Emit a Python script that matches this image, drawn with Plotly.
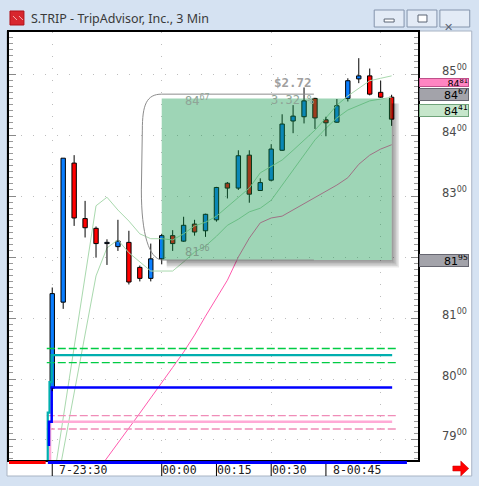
import plotly.graph_objects as go

W, H = 479, 486
PL, PR, PT, PB = 7, 418, 32, 460


def px(x):
    return (x - PL) / (PR - PL)


def py(y):
    return (PB - y) / (PB - PT)


# ---------------- data ----------------
bar_idx = list(range(-10, 22))
opens = [79.85, 81.26, 83.54, 82.63, 82.47, 82.22, 82.17, 82.24, 81.83, 81.65,
         81.97, 82.35, 82.26, 82.54, 82.43, 82.61, 83.21, 83.13, 83.67, 83.09,
         83.26, 83.75, 84.23, 84.30, 84.60, 84.25, 84.21, 84.60, 84.92, 84.97, 84.70, 84.62]
highs = [81.50, 83.62, 83.67, 82.92, 82.50, 82.29, 82.61, 82.43, 81.86, 82.22,
         82.38, 82.44, 82.66, 82.61, 82.71, 83.15, 83.23, 83.75, 83.75, 83.29,
         83.85, 84.34, 84.49, 84.78, 84.61, 84.30, 84.59, 84.93, 85.26, 85.09, 84.89, 84.66]
lows = [79.80, 81.15, 82.51, 82.32, 81.99, 81.87, 82.10, 81.55, 81.60, 81.60,
        81.88, 82.10, 82.25, 82.35, 82.33, 82.58, 82.96, 83.10, 82.89, 83.09,
        83.24, 83.74, 84.03, 84.19, 84.10, 83.98, 84.20, 84.55, 84.85, 84.65, 84.61, 84.15]
closes = [81.40, 83.62, 82.64, 82.48, 82.22, 82.24, 82.26, 81.59, 81.65, 81.97,
          82.35, 82.22, 82.52, 82.41, 82.70, 83.14, 83.13, 83.66, 83.03, 83.22,
          83.77, 84.18, 84.31, 84.56, 84.28, 84.20, 84.48, 84.89, 84.97, 84.67, 84.62, 84.26]

ma_fast = [78.20, 79.36, 80.52, 81.68, 82.84, 82.98, 82.77, 82.59, 82.38, 82.30,
           82.30, 82.28, 82.38, 82.51, 82.57, 82.67, 82.82, 82.98, 83.13, 83.38,
           83.49, 83.59, 83.75, 83.92, 84.08, 84.28, 84.49, 84.64, 84.77, 84.89, 84.93, 84.97]
ma_slow = [77.85, 78.80, 79.76, 80.72, 81.69, 82.15, 82.28, 82.07, 81.92, 81.77,
           81.77, 81.77, 81.92, 82.08, 82.18, 82.34, 82.52, 82.62, 82.74, 82.80,
           82.93, 83.18, 83.43, 83.67, 83.92, 84.11, 84.28, 84.41, 84.49, 84.56, 84.59, 84.62]
ma_long_idx = list(range(-6, 22))
ma_long = [78.46, 78.70, 78.95, 79.20, 79.44, 79.69, 79.93, 80.19, 80.44, 80.72,
           81.03, 81.33, 81.62, 82.00, 82.31, 82.56, 82.64, 82.67, 82.77, 82.87,
           82.98, 83.08, 83.18, 83.30, 83.52, 83.67, 83.77, 83.84]

# VWAP-like level lines (step start, then flat)
teal_x = [-10.41, -10.41, -10.25, -10.25, -10.05, -10.05, -9.8, 21.05]
teal_y = [78.5, 79.45, 79.45, 79.95, 79.95, 80.39, 80.39, 80.39]
blue_x = [-10.3, -10.3, -10.05, -10.05, -9.8, 21.05]
blue_y = [78.9, 79.30, 79.30, 79.86, 79.86, 79.86]
pinkv_x = [-10.2, -10.2, 21.05]
pinkv_y = [78.5, 79.30, 79.30]
band_x = [-10.5, 21.4]
green_bands = [80.50, 80.27]
pink_bands = [79.40, 79.18]

# time axis
tick_idx = [-10, 0, 5, 10, 15]
tick_text = ["7-23:30", "00:00", "00:15", "00:30", "8-00:45"]
grid_idx = [-10, 0, 10, 20]
session_prev_end = -10.6
session_start, session_end = -10.4, 22.4

# price axis (82.00 is hidden behind the 81.95 marker in the original)
price_ticks = [85, 84, 83, 81, 80, 79]
marker_prices = [84.81, 84.67, 84.41, 81.95]
marker_bg = ["#FF85C2", "#A3A3AA", "#C6E6CB", "#A3A3AA"]
marker_border = ["#C0508A", "#666670", "#6FA37A", "#666670"]
marker_shift = [3, 0, 0, 0]
marker_h = [7, 11, 11, 11]
marker_fs = [9.5, 11, 11, 11]

# measurement drawing
box_start, box_end = 0, 21
box_top, box_bottom = 84.60, 81.95
measure_top, measure_bottom = 84.67, 81.95
measure_end = 13.9
measure_dollar = "$2.72"
measure_pct = "3.32 %"

X_RANGE = [-13.95, 23.41]
Y_RANGE = [78.672, 85.689]

UP, DN = "#0A7EFF", "#FF0000"

fig = go.Figure()

# moving averages
fig.add_trace(go.Scatter(x=ma_long_idx, y=ma_long, mode="lines",
                         line=dict(color="#FF5AAE", width=1), hoverinfo="skip"))
fig.add_trace(go.Scatter(x=bar_idx, y=ma_slow, mode="lines",
                         line=dict(color="#A9D9AE", width=1), hoverinfo="skip"))
fig.add_trace(go.Scatter(x=bar_idx, y=ma_fast, mode="lines",
                         line=dict(color="#A9D9AE", width=1), hoverinfo="skip"))

# band lines
for lv in green_bands:
    fig.add_trace(go.Scatter(x=band_x, y=[lv, lv], mode="lines",
                             line=dict(color="#00CC44", width=1.3, dash="8px,3px"), hoverinfo="skip"))
for lv in pink_bands:
    fig.add_trace(go.Scatter(x=band_x, y=[lv, lv], mode="lines",
                             line=dict(color="#F08CB8", width=1.3, dash="8px,3px"), hoverinfo="skip"))
fig.add_trace(go.Scatter(x=pinkv_x, y=pinkv_y, mode="lines",
                         line=dict(color="#FFAAD6", width=2.5), hoverinfo="skip"))
fig.add_trace(go.Scatter(x=teal_x, y=teal_y, mode="lines",
                         line=dict(color="#00AFAF", width=2.2), hoverinfo="skip"))
fig.add_trace(go.Scatter(x=blue_x, y=blue_y, mode="lines",
                         line=dict(color="#0000FF", width=2.5), hoverinfo="skip"))

# candle bodies
body_lo = [min(o, c) for o, c in zip(opens, closes)]
body_h = [max(abs(c - o), 0.02) for o, c in zip(opens, closes)]
body_col = [UP if c >= o else DN for o, c in zip(opens, closes)]
fig.add_trace(go.Bar(x=bar_idx, y=body_h, base=body_lo, width=0.4,
                     marker=dict(color=body_col, line=dict(color="#000000", width=1)),
                     hoverinfo="skip"))

# wicks
wx, wy = [], []
for i, o, h, l, c in zip(bar_idx, opens, highs, lows, closes):
    lo_b, hi_b = min(o, c), max(o, c)
    if l < lo_b:
        wx += [i, i, None]
        wy += [l, lo_b, None]
    if h > hi_b:
        wx += [i, i, None]
        wy += [hi_b, h, None]
fig.add_trace(go.Scatter(x=wx, y=wy, mode="lines", line=dict(color="#000000", width=1),
                         hoverinfo="skip"))

shapes = []
# white panel behind chart
shapes.append(dict(type="rect", xref="paper", yref="paper", x0=px(5), x1=px(472), y0=py(476), y1=py(31),
                   fillcolor="#FFFFFF", line=dict(color="#A8B4C4", width=1), layer="below"))

# shadow of measurement box
ux, uy = 1 / 11.0, 1 / 61.0
for k in [1.5, 3, 4.5, 6, 7.5]:
    shapes.append(dict(type="rect", xref="x", yref="y",
                       x0=box_end, x1=box_end + k * ux, y0=box_bottom - k * uy, y1=box_top - 5 * uy,
                       fillcolor="rgba(0,0,0,0.09)", line=dict(width=0), layer="above"))
    shapes.append(dict(type="rect", xref="x", yref="y",
                       x0=box_start + 5 * ux, x1=box_end, y0=box_bottom - k * uy, y1=box_bottom,
                       fillcolor="rgba(0,0,0,0.09)", line=dict(width=0), layer="above"))
# translucent green box
shapes.append(dict(type="rect", xref="x", yref="y", x0=box_start, x1=box_end, y0=box_bottom, y1=box_top,
                   fillcolor="rgba(12,150,73,0.40)", line=dict(width=0), layer="above"))
# grey bracket of the measure tool
path = (f"M {measure_end},{measure_top} L {box_start},{measure_top} "
        f"C {box_start - 1.41},{measure_top} {box_start - 1.77},{measure_top - 0.18} {box_start - 1.77},{measure_top - 0.59} "
        f"L {box_start - 1.86},{measure_top - 1.57} "
        f"C {box_start - 1.86},{measure_bottom + 0.41} {box_start - 1.14},{measure_bottom + 0.03} {box_start},{measure_bottom} "
        f"L {measure_end},{measure_bottom}")
shapes.append(dict(type="path", xref="x", yref="y", path=path,
                   line=dict(color="#8C8C8C", width=1), layer="above"))

# session bars under the axis
shapes.append(dict(type="rect", xref="x", yref="paper", x0=X_RANGE[0], x1=session_prev_end,
                   y0=py(464), y1=py(461), fillcolor="#FF0000", line=dict(width=0)))
shapes.append(dict(type="rect", xref="x", yref="paper", x0=session_start, x1=session_end,
                   y0=py(464), y1=py(461), fillcolor="#0000FF", line=dict(width=0)))
# time tick marks
for t in tick_idx:
    shapes.append(dict(type="line", xref="x", yref="paper", x0=t, x1=t, y0=py(464), y1=py(476),
                       line=dict(color="#000000", width=1)))

# title bar icon
shapes.append(dict(type="rect", xref="paper", yref="paper", x0=px(8), x1=px(22), y0=py(25), y1=py(11),
                   fillcolor="#D8262E", line=dict(color="#B01018", width=1)))
for (a, b) in [(11, 15), (17, 21)]:
    shapes.append(dict(type="line", xref="paper", yref="paper", x0=px(a), x1=px(b), y0=py(16), y1=py(20),
                       line=dict(color="#F4B0B0", width=1)))
# window buttons
for (a, b) in [(374, 404), (407, 437), (440, 470)]:
    shapes.append(dict(type="rect", xref="paper", yref="paper", x0=px(a), x1=px(b), y0=py(27), y1=py(10),
                       fillcolor="#E3EBF6", line=dict(color="#8494AC", width=1)))
shapes.append(dict(type="rect", xref="paper", yref="paper", x0=px(384), x1=px(394), y0=py(22), y1=py(19),
                   fillcolor="#FFFFFF", line=dict(color="#5A6474", width=1)))
shapes.append(dict(type="rect", xref="paper", yref="paper", x0=px(418), x1=px(427), y0=py(22), y1=py(15),
                   fillcolor="#FFFFFF", line=dict(color="#5A6474", width=1)))
# red arrow bottom right
arrow = "M {},{} L {},{} L {},{} L {},{} L {},{} L {},{} L {},{} Z".format(
    px(453), py(466), px(461), py(466), px(461), py(461), px(469), py(468.5),
    px(461), py(476), px(461), py(471), px(453), py(471))
shapes.append(dict(type="path", xref="paper", yref="paper", path=arrow,
                   fillcolor="#FF0000", line=dict(color="#C00000", width=0.5)))

ann = []
ann.append(dict(text="S.TRIP - TripAdvisor, Inc., 3 Min", xref="paper", yref="paper",
                x=px(27), y=py(18.5), xanchor="left", yanchor="middle", showarrow=False,
                font=dict(family="Noto Sans", size=12.5, color="#3A3A3A")))
ann.append(dict(text="✕", xref="paper", yref="paper", x=px(455), y=py(18.5), showarrow=False,
                font=dict(family="DejaVu Sans", size=11, color="#5A6474")))

# price tick labels
for p in price_ticks:
    ann.append(dict(text=f"{p}<sup>00</sup>", xref="paper", yref="y", x=px(469), y=p, yshift=4,
                    xanchor="right", yanchor="middle", showarrow=False,
                    font=dict(family="DejaVu Sans", size=11.5, color="#4A4A4A")))
# price marker boxes
for p, bg, bc, sh, hh, fs in zip(marker_prices, marker_bg, marker_border, marker_shift, marker_h, marker_fs):
    whole, cents = f"{p:.2f}".split(".")
    ann.append(dict(text=f"{whole}<sup>{cents}</sup>", xref="paper", yref="y", x=px(419), y=p, yshift=sh,
                    xanchor="left", yanchor="middle", showarrow=False, width=48, height=hh, align="right",
                    bgcolor=bg, bordercolor=bc, borderwidth=1, borderpad=0,
                    font=dict(family="DejaVu Sans", size=fs, color="#000000")))
# time labels
for t, s in zip(tick_idx, tick_text):
    ann.append(dict(text=s, xref="x", yref="paper", x=t, y=py(470), xanchor="left", yanchor="middle",
                    xshift=(5 if "-" in s else -1.5), showarrow=False,
                    font=dict(family="DejaVu Sans Mono", size=11.5, color="#202020")))
# measurement texts
ann.append(dict(text=f"<b>{measure_dollar}</b>", xref="x", yref="y", x=12, y=measure_top, yshift=12,
                showarrow=False, font=dict(family="DejaVu Sans Mono", size=12.5, color="#A0A0A0"),
                xanchor="center", yanchor="middle"))
ann.append(dict(text=measure_pct, xref="x", yref="y", x=12, y=measure_top, yshift=-6,
                showarrow=False, font=dict(family="DejaVu Sans Mono", size=12, color="#8FA497"),
                xanchor="center", yanchor="middle"))
t_whole, t_cents = f"{measure_top:.2f}".split(".")
ann.append(dict(text=f"{t_whole}<sup>{t_cents}</sup>", xref="x", yref="y", x=box_start + 1.9, y=measure_top,
                yshift=-6, xanchor="left", yanchor="middle", showarrow=False,
                font=dict(family="DejaVu Sans Mono", size=12, color="#8FA497")))
ann.append(dict(text="81<sup>96</sup>", xref="x", yref="y", x=box_start + 1.9, y=measure_bottom,
                yshift=9, xanchor="left", yanchor="middle", showarrow=False,
                font=dict(family="DejaVu Sans Mono", size=12, color="#7E9C8A")))

fig.update_layout(
    width=W, height=H, margin=dict(l=PL, r=W - PR, t=PT, b=H - PB),
    paper_bgcolor="#D5E2F2", plot_bgcolor="#FFFFFF",
    showlegend=False, barmode="overlay",
    shapes=shapes, annotations=ann,
    xaxis=dict(range=X_RANGE, tickvals=grid_idx, showticklabels=False, ticks="",
               showgrid=True, gridcolor="#BDBDBD", griddash="1px,11px", zeroline=False,
               showline=True, linecolor="#000000", linewidth=2, mirror=True, fixedrange=True),
    yaxis=dict(range=Y_RANGE, side="right", tick0=79, dtick=1, showticklabels=False,
               ticks="inside", ticklen=7, tickcolor="#888888",
               minor=dict(dtick=0.1, ticks="inside", ticklen=4, tickcolor="#9A9A9A"),
               showgrid=True, gridcolor="#BDBDBD", griddash="1px,11px", zeroline=False,
               showline=True, linecolor="#000000", linewidth=2, mirror="ticks", fixedrange=True),
)

fig.write_html("out.html", config={"displayModeBar": False},
               post_script="document.body.style.margin='0px';document.body.style.overflow='hidden';")
